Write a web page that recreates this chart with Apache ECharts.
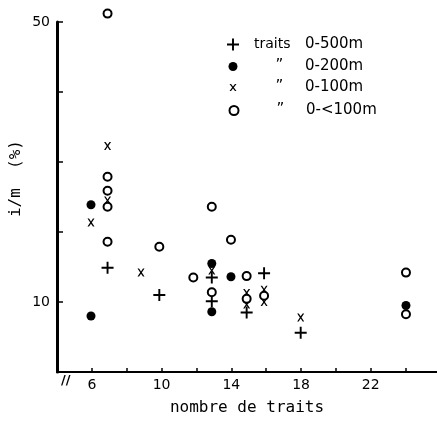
<!DOCTYPE html>
<html>
<head>
<meta charset="utf-8">
<script src="https://cdn.jsdelivr.net/npm/echarts@6/dist/echarts.min.js"></script>
<style>
  html, body { margin: 0; padding: 0; background: #fff; }
  #chart { width: 437px; height: 421px; }
</style>
</head>
<body>
<div id="chart"></div>
<script>
// values (x = nombre de traits, y = i/m %)
const names = ["traits 0-500m", "traits 0-200m", "traits 0-100m", "traits 0-<100m"];
const ranges = ["0-500m", "0-200m", "0-100m", "0-<100m"];

const plus500 = [[6.9, 14.9], [9.87, 11.0], [12.88, 13.5], [12.88, 10.1], [14.88, 8.5], [15.88, 14.1], [17.98, 5.6]];
const dot200 = [[5.95, 23.9], [5.95, 8.0], [12.88, 15.5], [12.88, 8.6], [13.98, 13.6], [24.02, 9.5]];
const cross100 = [[5.95, 21.35], [6.9, 32.3], [6.9, 24.5], [8.82, 14.2], [12.88, 14.5], [14.88, 11.3], [14.88, 9.65], [15.88, 11.75], [15.88, 10.0], [17.98, 7.8]];
const ring100 = [[6.9, 51.2], [6.9, 27.9], [6.9, 25.9], [6.9, 23.6], [6.9, 18.6], [9.87, 17.9], [11.82, 13.5], [12.88, 23.6], [12.88, 11.4], [13.98, 18.9], [14.88, 13.7], [14.88, 10.45], [15.88, 10.9], [24.02, 14.2], [24.02, 8.26]];

const xLabels = [6, 10, 14, 18, 22];
const yLabels = [10, 50];

const INK = "#000";
const PLUS = "path://M4.2,0H5.8V4.2H10V5.8H5.8V10H4.2V5.8H0V4.2H4.2Z";
const CROSS = "path://M0,0H2.2L5,3.6L7.8,0H10L6.2,5L10,10H7.8L5,6.4L2.2,10H0L3.8,5Z";

const symbols = [PLUS, "circle", CROSS, "emptyCircle"];
const sizes = [12, 9, [7, 8], 8];
const seriesData = [plus500, dot200, cross100, ring100];

// legend rows (centre y of each row) and icon sizes
const rowY = [46, 68, 89, 112];
const legW = [12, 9, 7, 9];

const chart = echarts.init(document.getElementById("chart"), null, { renderer: "canvas" });

const series = names.map((n, i) => ({
  name: n,
  type: "scatter",
  data: seriesData[i],
  symbol: symbols[i],
  symbolSize: sizes[i],
  clip: false,
  itemStyle: i === 3
    ? { color: INK, borderColor: INK, borderWidth: 1.6, opacity: 1 }
    : { color: INK, borderWidth: 0, opacity: 1 },
  emphasis: { disabled: true },
  z: 3 + i,
}));

const legends = names.map((n, i) => {
  const pad = 254 - (233 + legW[i] / 2 + 5);
  return {
    data: [n],
    left: 233 - legW[i] / 2,
    top: rowY[i] - 9,
    padding: 0,
    itemWidth: legW[i],
    itemHeight: legW[i],
    selectedMode: false,
    itemStyle: { opacity: 1 },
    formatter: () => (i === 0 ? "{a|traits}" : "{d|\u201d}") + "{b|" + ranges[i] + "}",
    textStyle: {
      color: INK,
      padding: [0, 0, 0, pad],
      rich: {
        a: { width: 51, align: "left", fontSize: 14, fontFamily: "DejaVu Sans", color: INK, lineHeight: 18 },
        d: { width: 51, align: "center", fontSize: 15, fontFamily: "DejaVu Sans", color: INK, lineHeight: 18 },
        b: { fontSize: 15, fontFamily: "DejaVu Sans", color: INK, lineHeight: 18 },
      },
    },
  };
});

chart.setOption({
  animation: false,
  backgroundColor: "#fff",
  grid: { left: 57, right: 0, top: 22, bottom: 40, containLabel: false },
  xAxis: {
    type: "value",
    min: 4,
    max: 25.8,
    interval: 2,
    name: "nombre de traits",
    nameLocation: "middle",
    nameGap: 28,
    nameTextStyle: { color: INK, fontSize: 16, fontFamily: "DejaVu Sans Mono" },
    axisLine: { lineStyle: { color: INK, width: 2 } },
    axisTick: { inside: true, length: 4, lineStyle: { color: INK, width: 1.5 } },
    axisLabel: {
      color: INK,
      fontSize: 14,
      fontFamily: "DejaVu Sans",
      margin: 6,
      showMaxLabel: false,
      formatter: (v) => (xLabels.includes(v) ? String(v) : ""),
    },
    splitLine: { show: false },
  },
  yAxis: {
    type: "value",
    min: 0,
    max: 50,
    interval: 10,
    axisLine: { show: true, lineStyle: { color: INK, width: 3 } },
    axisTick: { show: true, inside: true, length: 6, lineStyle: { color: INK, width: 1.5 } },
    axisLabel: {
      color: INK,
      fontSize: 14,
      fontFamily: "DejaVu Sans",
      margin: 7,
      formatter: (v) => (yLabels.includes(v) ? String(v) : ""),
    },
    splitLine: { show: false },
  },
  legend: legends,
  graphic: [
    {
      type: "text",
      left: 8,
      top: 140,
      rotation: Math.PI / 2,
      style: { text: "i/m  (%)", fill: INK, font: "16px 'DejaVu Sans Mono'" },
    },
    {
      type: "text",
      x: 61,
      y: 374,
      style: { text: "//", fill: INK, font: "bold 13px 'DejaVu Sans'" },
    },
  ],
  series: series,
});
</script>
</body>
</html>
